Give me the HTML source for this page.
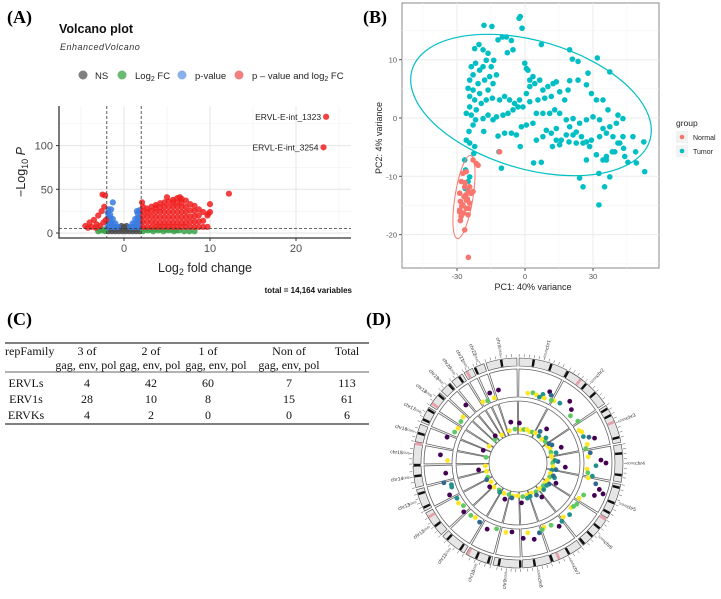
<!DOCTYPE html>
<html><head><meta charset="utf-8"><style>
html,body{margin:0;padding:0;background:#fff;}
svg{display:block;}
text{font-family:"Liberation Sans",sans-serif;}
svg text.serif, .serif text{font-family:"Liberation Serif",serif;}
</style></head><body>
<svg id="fig" width="721" height="599" viewBox="0 0 721 599" xmlns="http://www.w3.org/2000/svg">
<text class="serif" x="7" y="23" font-size="18" font-weight="bold">(A)</text>
<text class="serif" x="363" y="23" font-size="18" font-weight="bold">(B)</text>
<text class="serif" x="7" y="325" font-size="18" font-weight="bold">(C)</text>
<text class="serif" x="366" y="325" font-size="18" font-weight="bold">(D)</text>

<g id="volcano">
<text x="59" y="33" font-size="12.5" font-weight="bold" fill="#111">Volcano plot</text>
<text x="60" y="50" font-size="9" font-style="italic" fill="#333" letter-spacing="0.5">EnhancedVolcano</text>
<g font-size="9.5" fill="#222">
<circle cx="83" cy="75" r="4.5" fill="#808080"/><text x="95" y="79">NS</text>
<circle cx="122" cy="75" r="4.5" fill="#6aba72"/><text x="135" y="79">Log<tspan font-size="7" dy="2">2</tspan><tspan dy="-2"> FC</tspan></text>
<circle cx="182" cy="75" r="4.5" fill="#8ab0ea"/><text x="195" y="79">p-value</text>
<circle cx="239" cy="75" r="4.5" fill="#f07f80"/><text x="252" y="79">p – value and log<tspan font-size="7" dy="2">2</tspan><tspan dy="-2"> FC</tspan></text>
</g>
<g id="vgrid"></g>
<g id="vpts"></g>
<g id="vaxes"></g>
<text x="205" y="272" font-size="12.5" fill="#222" text-anchor="middle">Log<tspan font-size="9" dy="3">2</tspan><tspan dy="-3"> fold change</tspan></text>
<text transform="translate(25,172) rotate(-90)" font-size="12.5" fill="#222" text-anchor="middle">−Log<tspan font-size="9" dy="3">10</tspan><tspan dy="-3" font-style="italic"> P</tspan></text>
<text x="352" y="293" font-size="8" font-weight="bold" fill="#111" text-anchor="end">total = 14,164 variables</text>
</g>

<g id="pca">
<rect x="402" y="3" width="257" height="265" fill="#fff" stroke="#888" stroke-width="1"/>
<g id="pgrid"></g>
<g id="ppts"></g>
<g id="paxes"></g>
<text x="533" y="290" font-size="9" fill="#222" text-anchor="middle">PC1: 40% variance</text>
<text transform="translate(382,138) rotate(-90)" font-size="9" fill="#222" text-anchor="middle">PC2: 4% variance</text>
<g>
<text x="676" y="126" font-size="8.5" fill="#222">group</text>
<rect x="676" y="131" width="12" height="12" fill="#f2f2f2"/>
<circle cx="682" cy="137" r="2.3" fill="#F8766D"/>
<text x="693" y="140" font-size="7" fill="#222">Normal</text>
<rect x="676" y="145" width="12" height="12" fill="#f2f2f2"/>
<circle cx="682" cy="151" r="2.3" fill="#00BFC4"/>
<text x="693" y="154" font-size="7" fill="#222">Tumor</text>
</g>
</g>

<g class="serif" font-size="12" fill="#111">
<line x1="5" y1="343" x2="369" y2="343" stroke="#333" stroke-width="1.3"/>
<line x1="5" y1="372" x2="369" y2="372" stroke="#333" stroke-width="0.8"/>
<line x1="5" y1="424" x2="369" y2="424" stroke="#333" stroke-width="1.3"/>
<g text-anchor="middle">
<text x="5" y="355" text-anchor="start">repFamily</text>
<text x="87" y="355">3 of</text>
<text x="86" y="369">gag, env, pol</text>
<text x="151" y="355">2 of</text>
<text x="150" y="369">gag, env, pol</text>
<text x="208" y="355">1 of</text>
<text x="216" y="369">gag, env, pol</text>
<text x="289" y="355">Non of</text>
<text x="289" y="369">gag, env, pol</text>
<text x="347" y="355">Total</text>
<text x="26" y="387">ERVLs</text>
<text x="87" y="387">4</text><text x="151" y="387">42</text><text x="208" y="387">60</text><text x="289" y="387">7</text><text x="347" y="387">113</text>
<text x="26" y="403">ERV1s</text>
<text x="87" y="403">28</text><text x="151" y="403">10</text><text x="208" y="403">8</text><text x="289" y="403">15</text><text x="347" y="403">61</text>
<text x="26" y="419">ERVKs</text>
<text x="87" y="419">4</text><text x="151" y="419">2</text><text x="208" y="419">0</text><text x="289" y="419">0</text><text x="347" y="419">6</text>
</g>
</g>

<g id="circos"></g>
</svg>
<script>
const NS="http://www.w3.org/2000/svg";
function mk(tag,attrs,parent){const e=document.createElementNS(NS,tag);for(const k in attrs)e.setAttribute(k,attrs[k]);parent.appendChild(e);return e;}

const redFC=[2.2,2.2,2.2,2.2,2.2,2.7,2.7,2.7,2.7,2.7,3.2,3.2,3.2,3.2,3.2,3.7,3.7,3.7,3.7,3.7,3.7,4.2,4.2,4.2,4.2,4.2,4.2,4.7,4.7,4.7,4.7,4.7,4.7,5.2,5.2,5.2,5.2,5.2,5.2,5.7,5.7,5.7,5.7,5.7,5.7,5.7,6.2,6.2,6.2,6.2,6.2,6.2,6.2,6.7,6.7,6.7,6.7,6.7,6.7,6.7,7.2,7.2,7.2,7.2,7.2,7.2,7.7,7.7,7.7,7.7,7.7,8.2,8.2,8.2,8.2,8.2,8.7,8.7,8.7,8.7,9.2,9.2,9.2,9.7,9.7,-4.5,-4.0,-3.8,-3.5,-3.2,-3.0,-2.8,-2.6,-2.5,-2.2,-2.3,-2.1,-2.4,-3.3,-4.2,12.2,10.0,10.0,9.8,2.1,5.0,6.5,23.5,23.2];
const redP=[7,13,19,25,30,7,13,19,24,28,7,13,19,25,30,7,12,18,24,29,32,7,12,18,24,29,34,7,12,18,24,30,35,7,12,18,24,30,36,7,12,18,24,30,35,38,7,12,18,24,30,35,40,7,12,18,24,30,35,39,7,12,18,24,30,37,7,13,19,26,33,7,13,19,25,31,7,13,20,27,7,14,24,7,20,8,12,7,15,10,20,8,25,44,43,30,15,12,6,6,45,33,24,22,35,41,41,133,98];
const blueFC=[-1.9,-1.9,-1.9,-1.9,-1.6,-1.6,-1.6,-1.6,-1.3,-1.3,-1.3,-1.0,-1.0,-0.7,-1.3,-1.5,-1.8,1.9,1.9,1.9,1.9,1.6,1.6,1.6,1.6,1.3,1.3,1.3,1.0,1.0,0.7,1.8,1.5];
const blueP=[7,12,17,23,7,12,17,21,7,11,16,7,11,7,35,27,27,7,12,17,23,7,12,17,22,7,11,16,7,11,7,26,25];
const greenFC=[-3.0,-2.6,-2.2,2.2,2.8,3.4,4.0,4.6,5.2,5.8,6.4,7.0,7.6,8.2,2.5,3.1,3.7,4.3,4.9,5.5,6.1,-2.8,-2.4];
const greenP=[2,3,2,2,3,2,3,2,3,2,3,2,2,2,4,4,4,4,4,4,3,4,4];
const grayFC=[-1.8,-1.4,-1.0,-0.6,-0.2,0.2,0.6,1.0,1.4,1.8,-1.6,-1.2,-0.8,-0.4,0,0.4,0.8,1.2,1.6,-0.5,0,0.5,-0.3,0.3];
const grayP=[2,2,2,2,2,2,2,2,2,2,4,4,4,4,4,4,4,4,4,6,7,6,8,8];
const vXTicks=[0,10,20];
const vYTicks=[0,50,100];

function vx(v){return 124+v*8.6;}
function vy(v){return 233-v*0.874;}
(function(){
 const g=document.getElementById('vgrid');
 [-5,5,15,25].forEach(t=>{const l=mk('line',{x1:vx(t),x2:vx(t),y1:106,y2:238,stroke:'#f0f0f0','stroke-width':0.6},g);});
 [25,75,125].forEach(t=>{const l=mk('line',{x1:59,x2:351,y1:vy(t),y2:vy(t),stroke:'#f0f0f0','stroke-width':0.6},g);});
 vXTicks.forEach(t=>{const l=mk('line',{x1:vx(t),x2:vx(t),y1:106,y2:238,stroke:'#e4e4e4','stroke-width':1},g);});
 vYTicks.forEach(t=>{const l=mk('line',{x1:59,x2:351,y1:vy(t),y2:vy(t),stroke:'#e4e4e4','stroke-width':1},g);});
 const p=document.getElementById('vpts');
 function draw(fc,pv,col,name){for(let i=0;i<fc.length;i++){const c=mk('circle',{cx:vx(fc[i]),cy:vy(pv[i]),r:3.1,fill:col,'fill-opacity':0.85},p);}}
 draw(grayFC,grayP,'#4d4d4d','ns-point');
 draw(greenFC,greenP,'#3aa34a','log2fc-point');
 draw(blueFC,blueP,'#3a7be0','pvalue-point');
 draw(redFC,redP,'#f02020','significant-point');
 const a=document.getElementById('vaxes');
 [[-2,'v-cutoff-line-left'],[2,'v-cutoff-line-right']].forEach(d=>{const l=mk('line',{x1:vx(d[0]),x2:vx(d[0]),y1:106,y2:238,stroke:'#333','stroke-dasharray':'3,2','stroke-width':0.8},a);});
 const h=mk('line',{x1:59,x2:351,y1:vy(5),y2:vy(5),stroke:'#333','stroke-dasharray':'3,2','stroke-width':0.8},a);
 const ax=mk('path',{d:'M59 106 V238 H351',fill:'none',stroke:'#333','stroke-width':1.3},a);
 vXTicks.forEach(t=>{mk('line',{x1:vx(t),x2:vx(t),y1:238,y2:241,stroke:'#333'},a);const tx=mk('text',{x:vx(t),y:252,'font-size':11,fill:'#4d4d4d','text-anchor':'middle'},a);tx.textContent=t;});
 vYTicks.forEach(t=>{mk('line',{x1:56,x2:59,y1:vy(t),y2:vy(t),stroke:'#333'},a);const tx=mk('text',{x:53,y:vy(t)+4,'font-size':11,fill:'#4d4d4d','text-anchor':'end'},a);tx.textContent=t;});
 const l1=mk('text',{x:vx(23.5)-5,y:vy(133)+3,'font-size':8.5,fill:'#222','text-anchor':'end'},a);l1.textContent='ERVL-E-int_1323';
 const l2=mk('text',{x:vx(23.2)-5,y:vy(98)+3,'font-size':8.5,fill:'#222','text-anchor':'end'},a);l2.textContent='ERVL-E-int_3254';
})();

const tumorPC1=[-2.6,-2.1,-1.3,-18.1,-14.6,-22.2,-20.3,-18.5,-16.3,-11.9,-10,-8.2,-6,-7.8,-5.3,-13.8,-14.9,-17.1,-18.5,-20,-21.8,-23.7,-22.9,-24.4,-25.1,-24.4,-22.9,-20.7,-17.8,-15.6,-12.6,-14.1,-16.3,-20,-22.2,-24.4,-25.9,-23.7,-21.5,-19.3,-17.1,-14.4,-11.2,-9,-6.8,-4.6,-2.4,0.6,2.1,3.5,0.6,-0.1,1.3,2.1,4.3,6.5,7.9,10.1,12.4,13.8,15.3,11.6,8.7,5.7,2.1,-0.9,-3.1,-5.3,-7.5,-9.7,-12.6,-14.1,-16.3,-18.5,-21.8,-22.9,-24.7,-25.9,-24.4,-22.2,-22.6,-18.2,-11.9,-9,-6,-3.8,-2.1,3.8,-10.4,-11.5,-1.6,0.6,3.5,5,7.9,10.9,13.1,15.3,17.5,19,19.7,23.4,27.1,29.3,31.5,34.4,36.6,41,43.2,40.3,37.4,34.4,32.9,30,27.1,24.1,21.2,18.2,19.7,22.6,24.9,27.1,29.3,32.9,35.9,38.8,41.8,43.5,39.6,35.9,34.4,31.5,28.5,25.6,22.6,19.4,16,13.8,11.6,9.4,7.9,12.1,15.3,18.2,21.2,31.9,37.4,24.1,25.6,32.6,35.1,35.9,37.4,44,45.4,47.6,48.8,52.4,52.8,49.1,41,43.2,7.2,19.7,23.4,27.8,32.6,38.5,27.1,20.9,13.8,5,7.2,-25.1,-26.2,-26.4,-26.6,-24.4];
const tumorPC2=[17.1,17.4,15.4,15.9,15.7,11.9,12.6,11.7,11.1,13.4,13.9,13.9,13.3,11.2,11.7,9.9,8.8,9.9,8.8,8.2,9.4,8.8,7.4,6.5,5.1,3.7,4.8,5.9,6.5,7.1,7.4,5.9,4.8,4.2,3.1,1.9,0.8,0.5,1.4,2.5,3.1,3.4,3.1,3.7,3.1,2.5,3.1,4.2,5.4,7.1,8.5,9.4,8.2,6.5,5.9,6.5,4.8,5.4,5.9,6.2,4.5,3.7,3.4,3.1,2.8,1.9,1.9,1.4,0.8,0.5,0.2,-0.3,0.5,-0.1,-0.3,-1.2,-2.3,-3.8,-4.3,-4.9,-6.1,-2.3,-3.1,-2.6,-2.6,-2.9,-4.9,-7.7,-8.6,-5.8,-1.5,-1.2,-0.9,0.8,0.8,0.8,1.4,0.8,3.1,4.8,6.4,6.5,5.7,4.2,3.1,3.1,1.4,0.5,-0.1,-0.9,-1.5,-1.8,-0.3,0.2,-0.3,-0.9,-0.1,-0.3,-1.5,-2.4,-3.2,-4.1,-3.8,-3.2,-2.6,-3.2,-4.3,-5.2,-5.8,-6.6,-7.2,-6.3,-4.9,-4.3,-4.3,-4.1,-3.8,-3.8,-2.6,-2.1,-3.2,-4.9,-4.6,-2.9,-2.9,10.3,7.9,-10.3,-11.8,-14.9,-11.8,-7.2,-10.1,-6.6,-7.6,-3.2,-5.8,-4.1,-9.2,-7.7,-4.3,-3.2,12.6,11.7,9.7,7.7,-9.5,-5.8,-7.2,10.1,-1.8,-3.8,-7.6,-10.9,-8.9,-12.1,-7.2,-10.1];
const normalPC1=[-27.4,-25.9,-28.1,-28.8,-28.5,-28.8,-28.5,-26.6,-27.1,-25.9,-25.1,-24.4,-26.6,-25.9,-23.7,-22.9,-24.4,-25.1,-27.4,-22.9,-21.5,-20.7,-24.9,-26.9,-28.8,-25,-11.2,-27.6,-26.1,-27.9,-25.4,-24.1,-28.2,-26.4];
const normalPC2=[-9.5,-9.2,-10.9,-12.9,-14.3,-15.8,-17.6,-19.2,-16.3,-14.1,-12.6,-11.8,-11.8,-15.5,-12.9,-12.6,-14.6,-16.6,-14.9,-7.2,-7.8,-8.1,-15.5,-13.5,-16.1,-23.9,-5.8,-14.9,-13.2,-15.1,-13.9,-12.9,-16.9,-11.1];
const pXTicks=[-30,0,30];
const pYTicks=[10,0,-10,-20];
const pXTickLabels=['-30','0','30'];
const pYTickLabels=['10','0','-10','-20'];

function px(v){return 525+v*2.267;}
function py(v){return 118-v*5.83;}
(function(){
 const g=document.getElementById('pgrid');
 [-45,-15,15,45].forEach(t=>{mk('line',{x1:px(t),x2:px(t),y1:3,y2:268,stroke:'#f4f4f4','stroke-width':0.6},g);});
 [15,5,-5,-15,-25].forEach(t=>{mk('line',{x1:402,x2:659,y1:py(t),y2:py(t),stroke:'#f4f4f4','stroke-width':0.6},g);});
 pXTicks.forEach(t=>{const l=mk('line',{x1:px(t),x2:px(t),y1:3,y2:268,stroke:'#ebebeb','stroke-width':1},g);});
 pYTicks.forEach(t=>{const l=mk('line',{x1:402,x2:659,y1:py(t),y2:py(t),stroke:'#ebebeb','stroke-width':1},g);});
 const p=document.getElementById('ppts');
 for(let i=0;i<tumorPC1.length;i++){const c=mk('circle',{cx:px(tumorPC1[i]),cy:py(tumorPC2[i]),r:2.8,fill:'#00BFC4'},p);}
 for(let i=0;i<normalPC1.length;i++){const c=mk('circle',{cx:px(normalPC1[i]),cy:py(normalPC2[i]),r:2.8,fill:'#F8766D'},p);}
 const e1=mk('ellipse',{cx:531,cy:105,rx:124,ry:64,transform:'rotate(16.4 531 105)',fill:'none',stroke:'#00BFC4','stroke-width':1.2},p);
 const e2=mk('ellipse',{cx:464,cy:197,rx:9,ry:42,transform:'rotate(9 464 197)',fill:'none',stroke:'#F8766D','stroke-width':1},p);
 const a=document.getElementById('paxes');
 pXTicks.forEach((t,i)=>{mk('line',{x1:px(t),x2:px(t),y1:268,y2:271,stroke:'#555'},a);const tx=mk('text',{x:px(t),y:279,'font-size':7.5,fill:'#555','text-anchor':'middle'},a);tx.textContent=pXTickLabels[i];});
 pYTicks.forEach((t,i)=>{mk('line',{x1:399,x2:402,y1:py(t),y2:py(t),stroke:'#555'},a);const tx=mk('text',{x:397,y:py(t)+3,'font-size':7.5,fill:'#555','text-anchor':'end'},a);tx.textContent=pYTickLabels[i];});
})();

const chrNames=['chr1','chr2','chr3','chr4','chr5','chr6','chr7','chr8','chr9','chr10','chr11','chr12','chr13','chr14','chr15','chr16','chr17','chr18','chr19','chr20','chr21','chr22','chrX'];
const chrLen=[248,242,198,190,181,171,159,145,138,134,135,133,114,107,102,90,83,80,59,64,47,51,156];
const bandAngles=[18,28,40,47,58,62,75,84,96,103,112,128,140,150,160,170,178,190,203,213,222,232,244,252,262,286,294,300,310,325,335,350,8,118,134,196,268,318];
const bandPink=[36,66,122,156,208,238,280,304,330];
const outerAng=[8,12,15,20,24,26,30,35,40,45,48,55,62,68,70,72,75,78,82,85,88,90,92,95,98,100,105,108,110,113,116,120,125,130,135,140,147,152,158,163,168,172,176,185,190,198,205,213,218,222,228,232,240,245,250,255,262,272,276,290,296,300,310,318,330,334,340,345,338,18,22,28,64,102,128,143,160,236,252,306];
const outerVal=[0.1,0.15,0.1,0.2,0.4,0.3,0.15,0.2,0.5,0.3,0.1,0.2,0.05,0.1,0.3,0.5,0.15,0.05,0.2,0.1,0.6,0.8,0.4,0.05,0.1,0.3,0.5,0.7,0.9,0.6,0.2,0.1,0.15,0.05,0.2,0.1,0.3,0.1,0.05,0.2,0.4,0.1,0.3,0.05,0.1,0.05,0.2,0.1,0.05,0.1,0.2,0.05,0.1,0.3,0.1,0.35,0.2,0.1,0.4,0.3,0.1,0.05,0.15,0.4,0.1,0.05,0.05,0.3,0.3,0.05,0.08,0.12,0.12,0.15,0.1,0.2,0.12,0.15,0.08,0.1];
const outerCol=[4,3,4,2,0,1,4,2,0,0,3,3,4,2,1,0,4,3,1,4,0,0,2,4,3,2,1,0,0,0,3,4,3,4,2,4,0,3,4,1,0,4,0,0,4,3,0,1,4,3,0,3,2,0,2,1,0,4,0,0,3,4,4,0,4,3,4,0,0,2,4,3,4,4,3,2,3,4,2,3];
const innerAng=[5,10,15,20,25,30,38,45,52,60,66,72,78,84,90,96,102,108,114,120,126,132,140,148,156,164,172,180,188,196,205,215,225,235,245,255,265,280,300,315,330,345,355,35,48,62,75,88,100,112,124,136,150,165,2,40,70,95,118,145,175,200,230,260,290,320,350,58,86,110,128,160,190,212,242];
const innerVal=[0.08,0.1,0.12,0.08,0.1,0.12,0.1,0.08,0.12,0.1,0.14,0.12,0.1,0.14,0.12,0.14,0.12,0.1,0.12,0.1,0.08,0.1,0.08,0.1,0.06,0.08,0.1,0.06,0.08,0.06,0.08,0.06,0.1,0.06,0.08,0.05,0.06,0.05,0.08,0.06,0.05,0.08,0.1,0.25,0.22,0.25,0.28,0.3,0.25,0.28,0.22,0.2,0.2,0.18,0.3,0.45,0.5,0.55,0.4,0.35,0.3,0.25,0.2,0.3,0.2,0.15,0.35,0.18,0.2,0.22,0.18,0.15,0.15,0.12,0.15];
const innerCol=[4,3,4,4,3,4,2,4,3,4,4,3,4,4,3,4,2,4,3,4,4,3,4,3,4,4,3,4,4,3,4,3,4,4,3,4,4,3,4,3,4,4,3,1,2,1,2,1,1,2,1,2,1,2,0,0,0,0,0,0,0,0,0,0,0,0,0,1,2,1,2,2,1,2,1];
const viridis=['#440154','#31688e','#21918c','#5ec962','#fde725'];

(function(){
 const g=document.getElementById('circos');
 const cx=518,cy=463,gap=1.2;
 const total=chrLen.reduce((a,b)=>a+b,0);
 const avail=360-gap*chrLen.length;
 function pt(a,r){const t=(a-90)*Math.PI/180;return [cx+r*Math.cos(t),cy+r*Math.sin(t)];}
 function sector(a0,a1,r0,r1){const p1=pt(a0,r1),p2=pt(a1,r1),p3=pt(a1,r0),p4=pt(a0,r0);const lg=(a1-a0)>180?1:0;
  return `M${p1[0]},${p1[1]} A${r1},${r1} 0 ${lg} 1 ${p2[0]},${p2[1]} L${p3[0]},${p3[1]} A${r0},${r0} 0 ${lg} 0 ${p4[0]},${p4[1]} Z`;}
 let a=gap/2;
 chrLen.forEach((L,i)=>{
  const w=L/total*avail, a0=a, a1=a+w;
  const id=mk('path',{d:sector(a0,a1,97,105),fill:'#e6e6e6',stroke:'#444','stroke-width':0.6},g);
  
  const t1=mk('path',{d:sector(a0,a1,66,94),fill:'none',stroke:'#666','stroke-width':0.8},g);
  
  const t2=mk('path',{d:sector(a0,a1,29,62),fill:'none',stroke:'#666','stroke-width':0.8},g);
  
  const mid=(a0+a1)/2; const p=pt(mid,122);
  const rot=mid<180?mid-90:mid+90;
  const tx=mk('text',{x:p[0],y:p[1]+1.5,'font-size':5,fill:'#333','text-anchor':'middle',transform:`rotate(${rot} ${p[0]} ${p[1]})`},g);
  tx.textContent=chrNames[i];
  const n=Math.max(3,Math.round(L/25));
  for(let k=0;k<n;k++){const ta=a0+k*(w/n);const q1=pt(ta,106),q2=pt(ta,109);mk('line',{x1:q1[0],y1:q1[1],x2:q2[0],y2:q2[1],stroke:'#555','stroke-width':0.5},g);}
  const sp=pt(mid,113);const st=mk('text',{x:sp[0],y:sp[1]+1,'font-size':3.5,fill:'#666','text-anchor':'middle',transform:`rotate(${rot} ${sp[0]} ${sp[1]})`},g);st.textContent='50Mb';
  a=a1+gap;
 });
 bandAngles.forEach(b=>{const d=mk('path',{d:sector(b,b+1.4,97.5,104.5),fill:'#111'},g);});
 bandPink.forEach(b=>{const d=mk('path',{d:sector(b,b+1.6,97.5,104.5),fill:'#e8a0a8'},g);});
 for(let i=0;i<outerAng.length;i++){const p=pt(outerAng[i],68+outerVal[i]*25);const c=mk('circle',{cx:p[0],cy:p[1],r:2.4,fill:viridis[outerCol[i]]},g);}
 for(let i=0;i<innerAng.length;i++){const p=pt(innerAng[i],31+innerVal[i]*30);const c=mk('circle',{cx:p[0],cy:p[1],r:2.4,fill:viridis[innerCol[i]]},g);}
})();
</script>
</body></html>
